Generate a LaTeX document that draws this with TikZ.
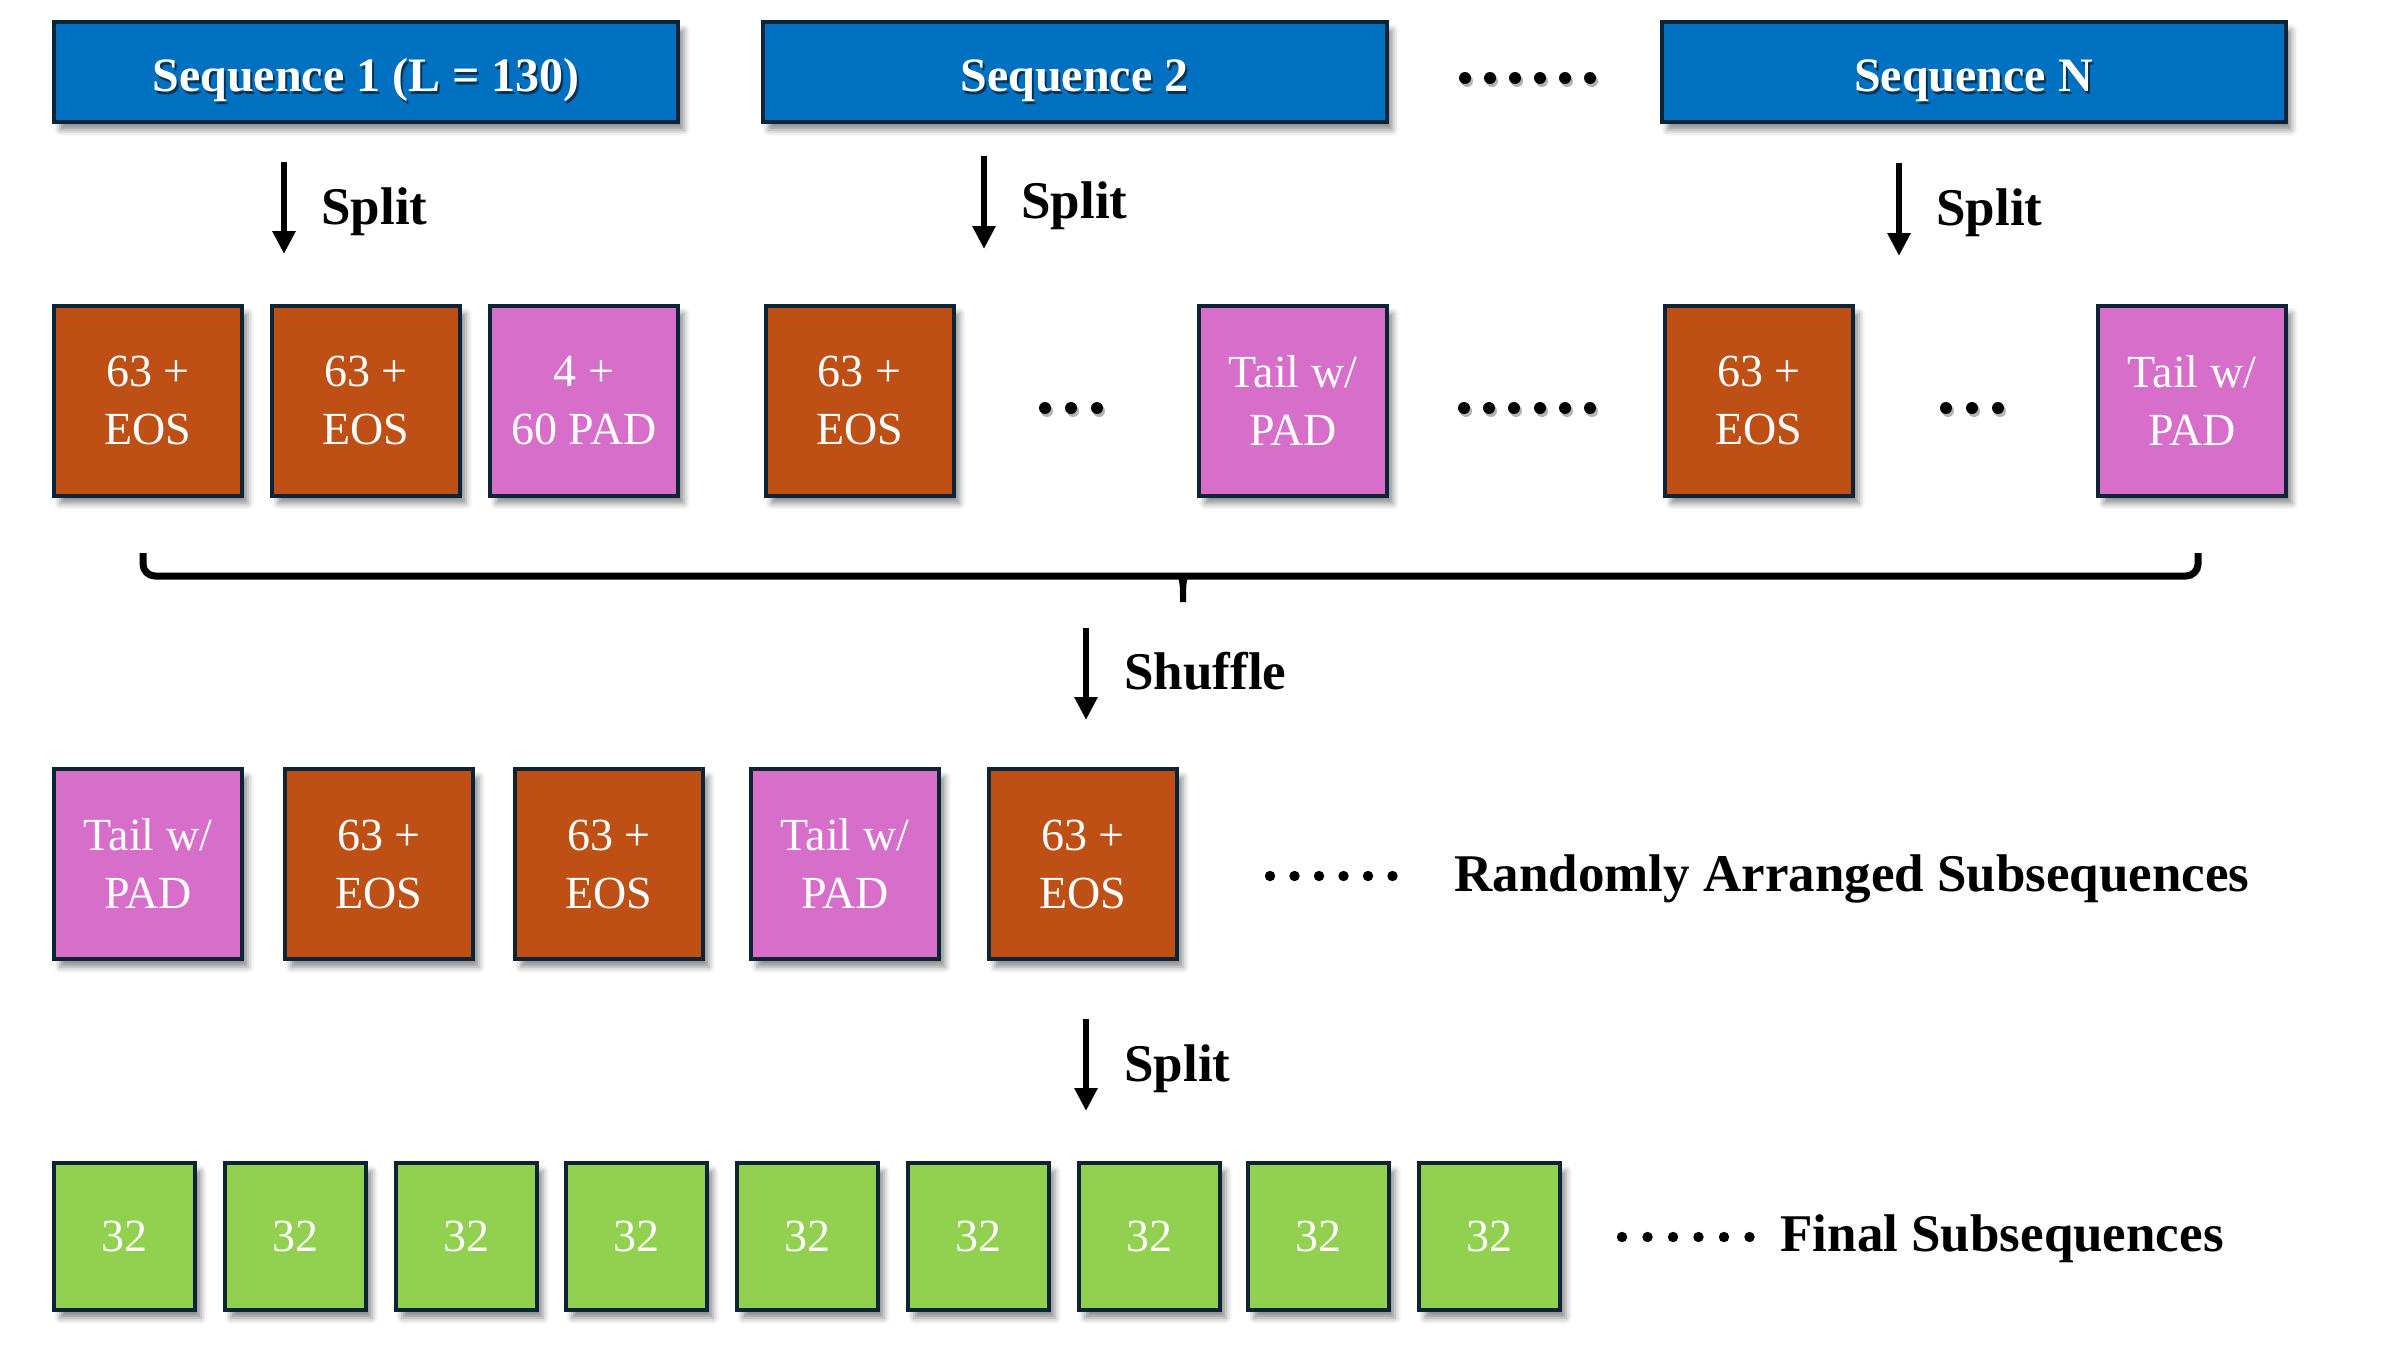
\documentclass[tikz,border=0pt]{standalone}
\usepackage{fontspec}
\setmainfont{Liberation Serif}
\usetikzlibrary{arrows.meta,shadows.blur}
\definecolor{seqblue}{HTML}{0070C0}
\definecolor{edgecol}{HTML}{0D2436}
\definecolor{eosorange}{HTML}{BE5016}
\definecolor{padpink}{HTML}{D66ECA}
\definecolor{finalgreen}{HTML}{92D050}
\tikzset{
  boxshadow/.style={blur shadow={shadow xshift=3pt, shadow yshift=-4pt, shadow blur radius=3pt, shadow opacity=45}},
  seqbox/.style={draw=edgecol, line width=2pt, fill=seqblue, minimum width=312pt, minimum height=50pt, inner sep=0pt, boxshadow},
  seqtext/.style={font=\bfseries\fontsize{24}{28}\selectfont, text=white, inner sep=0pt, anchor=base},
  seqshadow/.style={font=\bfseries\fontsize{24}{28}\selectfont, text=black, opacity=0.55, inner sep=0pt, anchor=base},
  midbox/.style={draw=edgecol, line width=2pt, minimum width=94pt, minimum height=95pt, inner sep=0pt,
     font=\fontsize{23}{29}\selectfont, text=white, align=center, boxshadow},
  eosbox/.style={midbox, fill=eosorange},
  padbox/.style={midbox, fill=padpink},
  greenbox/.style={draw=edgecol, line width=2pt, fill=finalgreen, minimum width=70.5pt, minimum height=73.5pt,
     inner sep=0pt, font=\fontsize{23}{28}\selectfont, text=white, boxshadow},
  lbl/.style={font=\bfseries\fontsize{26.5}{30}\selectfont, anchor=base west, inner sep=0pt},
  arr/.style={line width=3pt, -{Triangle[width=11pt,length=11.5pt]}},
  dotshadow/.style={fill=black, opacity=0.3},
}
\begin{document}
\begin{tikzpicture}[x=0.5pt, y=-0.5pt]
\useasboundingbox (0,0) rectangle (2392,1346);
% ---------- sequences ----------
\node[seqbox] (s1) at (366,72) {};
\node[seqbox] (s2) at (1074.5,72) {};
\node[seqbox] (sN) at (1973.5,72) {};
\node[seqshadow] (s1ts) at (368,94) {Sequence 1 (L = 130)};
\node[seqtext] (s1t) at (366,91) {Sequence 1 (L = 130)};
\node[seqshadow] (s2ts) at (1076.5,94) {Sequence 2};
\node[seqtext] (s2t) at (1074.5,91) {Sequence 2};
\node[seqshadow] (sNts) at (1975.5,94) {Sequence N};
\node[seqtext] (sNt) at (1973.5,91) {Sequence N};
\foreach \x in {1465,1490,1515,1540,1565,1590} {
  \fill[dotshadow] (\x+2,81) circle[radius=3pt];
  \fill (\x,78) circle[radius=3pt];
}
% ---------- split arrows ----------
\coordinate (a1s) at (284,162); \coordinate (a1e) at (284,254);
\coordinate (a2s) at (984,156); \coordinate (a2e) at (984,249);
\coordinate (a3s) at (1899,163); \coordinate (a3e) at (1899,256);
\draw[arr] (a1s) -- (a1e);
\draw[arr] (a2s) -- (a2e);
\draw[arr] (a3s) -- (a3e);
\node[lbl] (sp1) at (321,224) {Split};
\node[lbl] (sp2) at (1021,218) {Split};
\node[lbl] (sp3) at (1936,225) {Split};
% ---------- row 2 ----------
\node[eosbox] (b1) at (148,400.5) {63 +\\EOS};
\node[eosbox] (b2) at (366,400.5) {63 +\\EOS};
\node[padbox] (b3) at (584,400.5) {4 +\\60 PAD};
\node[eosbox] (b4) at (859.5,400.5) {63 +\\EOS};
\node[padbox] (b5) at (1293,400.5) {Tail w/\\PAD};
\node[eosbox] (b6) at (1759,400.5) {63 +\\EOS};
\node[padbox] (b7) at (2192,400.5) {Tail w/\\PAD};
\foreach \x in {1045,1071,1097, 1946,1972,1998, 1464,1489,1514,1540,1565,1590} {
  \fill[dotshadow] (\x+2,411) circle[radius=3pt];
  \fill (\x,408) circle[radius=3pt];
}
% ---------- brace ----------
\draw[line width=3.5pt, rounded corners=6pt] (143,553) -- (143,576) -- (2198,576) -- (2198,553);
\fill (1175,573) -- (1191,573) .. controls (1186,578) and (1186,585) .. (1186,602) -- (1180,602) .. controls (1180,585) and (1180,578) .. (1175,573) -- cycle;
% ---------- shuffle ----------
\coordinate (a4s) at (1086,628); \coordinate (a4e) at (1086,720);
\draw[arr] (a4s) -- (a4e);
\node[lbl] (shuf) at (1124,689) {Shuffle};
% ---------- row 3 ----------
\node[padbox] (c1) at (148,864) {Tail w/\\PAD};
\node[eosbox] (c2) at (379,864) {63 +\\EOS};
\node[eosbox] (c3) at (609,864) {63 +\\EOS};
\node[padbox] (c4) at (845,864) {Tail w/\\PAD};
\node[eosbox] (c5) at (1083,864) {63 +\\EOS};
\foreach \x in {1270,1294.5,1319,1343.5,1368,1392.5} {
  \fill (\x,876) circle[radius=2.6pt];
}
\node[lbl] (rand) at (1454,891) {Randomly Arranged Subsequences};
% ---------- split 2 ----------
\coordinate (a5s) at (1086,1019); \coordinate (a5e) at (1086,1111);
\draw[arr] (a5s) -- (a5e);
\node[lbl] (sp4) at (1124,1081) {Split};
% ---------- row 4 ----------
\foreach \x [count=\i] in {124.5,295.5,466.5,636.5,807.5,978.5,1149.5,1318.5,1489.5} {
  \node[greenbox] (g\i) at (\x,1236.5) {32};
}
\foreach \x in {1622,1647.5,1673,1698.5,1724,1749.5} {
  \fill (\x,1237) circle[radius=2.6pt];
}
\node[lbl] (fin) at (1780,1251) {Final Subsequences};
\end{tikzpicture}
\end{document}
